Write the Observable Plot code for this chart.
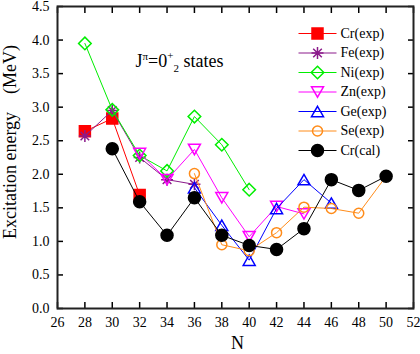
<!DOCTYPE html>
<html><head><meta charset="utf-8">
<script src="https://cdn.jsdelivr.net/npm/d3@7"></script>
<script src="https://cdn.jsdelivr.net/npm/@observablehq/plot@0.6"></script>
<style>
body{margin:0;background:#fff}
svg{display:block}
svg text{font-family:"Liberation Serif","Times New Roman","DejaVu Serif",serif}
</style></head><body><div id="chart"></div>
<script>
// ---- data ----
const N_CrExp = [28, 30, 32];
const E_CrExp = [2.64, 2.83, 1.69];
const N_FeExp = [28, 30, 32, 34, 36];
const E_FeExp = [2.57, 2.95, 2.25, 1.92, 1.85];
const N_NiExp = [28, 30, 32, 34, 36, 38, 40];
const E_NiExp = [3.95, 2.96, 2.28, 2.05, 2.86, 2.44, 1.77];
const N_ZnExp = [32, 34, 36, 38, 40, 42, 44];
const E_ZnExp = [2.31, 1.92, 2.37, 1.65, 1.07, 1.52, 1.41];
const N_GeExp = [36, 38, 40, 42, 44, 46];
const E_GeExp = [1.80, 1.24, 0.72, 1.49, 1.92, 1.57];
const N_SeExp = [36, 38, 40, 42, 44, 46, 48, 50];
const E_SeExp = [2.01, 0.95, 0.86, 1.13, 1.51, 1.49, 1.42, 1.97];
const N_CrCal = [30, 32, 34, 36, 38, 40, 42, 44, 46, 48, 50];
const E_CrCal = [2.38, 1.59, 1.09, 1.65, 1.09, 0.94, 0.88, 1.19, 1.92, 1.76, 1.97];

const seriesNames = ["Cr(exp)", "Fe(exp)", "Ni(exp)", "Zn(exp)", "Ge(exp)", "Se(exp)", "Cr(cal)"];
const xTicks = [26, 28, 30, 32, 34, 36, 38, 40, 42, 44, 46, 48, 50, 52];
const yTicks = [0, 0.5, 1, 1.5, 2, 2.5, 3, 3.5, 4, 4.5];
const xLabel = "N";
const yLabel = "Excitation energy\u00a0\u00a0\u00a0\u00a0(MeV)";
const annotation = "J\u03c0=0+2 states";

// ---- symbols ----
const symSquare = {draw(c){c.moveTo(-5.5,-5.5);c.lineTo(5.5,-5.5);c.lineTo(5.5,5.5);c.lineTo(-5.5,5.5);c.closePath();}};
const symStar = {draw(c){const r=6,d=4.3;c.moveTo(0,-r);c.lineTo(0,r);c.moveTo(-r,0);c.lineTo(r,0);c.moveTo(-d,-d);c.lineTo(d,d);c.moveTo(-d,d);c.lineTo(d,-d);}};
const symDiamond = {draw(c){const r=6.3;c.moveTo(0,-r);c.lineTo(r,0);c.lineTo(0,r);c.lineTo(-r,0);c.closePath();}};
const symTriDown = {draw(c){c.moveTo(-6,-5.2);c.lineTo(6,-5.2);c.lineTo(0,5.2);c.closePath();}};
const symTriUp = {draw(c){c.moveTo(0,-5.2);c.lineTo(6,5.2);c.lineTo(-6,5.2);c.closePath();}};
const symCircle5 = {draw(c){c.moveTo(5,0);c.arc(0,0,5,0,2*Math.PI);c.closePath();}};
const symCircle6 = {draw(c){c.moveTo(6,0);c.arc(0,0,6,0,2*Math.PI);c.closePath();}};
const symHLine = {draw(c){c.moveTo(-19,0);c.lineTo(19,0);}};

const toRows = (N, E) => N.map((n, i) => ({N: n, E: E[i]}));
const series = [
  {name: seriesNames[0], rows: toRows(N_CrExp, E_CrExp), color: "#ff0000", symbol: symSquare, fill: "#ff0000"},
  {name: seriesNames[1], rows: toRows(N_FeExp, E_FeExp), color: "#8b1a8b", symbol: symStar, fill: "none"},
  {name: seriesNames[2], rows: toRows(N_NiExp, E_NiExp), color: "#00ee00", symbol: symDiamond, fill: "none"},
  {name: seriesNames[3], rows: toRows(N_ZnExp, E_ZnExp), color: "#ff00ff", symbol: symTriDown, fill: "none"},
  {name: seriesNames[4], rows: toRows(N_GeExp, E_GeExp), color: "#0000ff", symbol: symTriUp, fill: "none"},
  {name: seriesNames[5], rows: toRows(N_SeExp, E_SeExp), color: "#ff8c1a", symbol: symCircle5, fill: "none"},
  {name: seriesNames[6], rows: toRows(N_CrCal, E_CrCal), color: "#000000", symbol: symCircle6, fill: "#000000"}
];

const marks = [];
for (const s of series) {
  marks.push(Plot.line(s.rows, {x: "N", y: "E", stroke: s.color, strokeWidth: 1}));
  marks.push(Plot.dot(s.rows, {x: "N", y: "E", symbol: s.symbol, r: 5, stroke: s.color, fill: s.fill, strokeWidth: 1.5}));
}
// legend
series.forEach((s, i) => {
  const dy = 27 + 19.5 * i;
  marks.push(Plot.dot([s.name], {frameAnchor: "top-left", dx: 260, dy, symbol: symHLine, r: 5, stroke: s.color, fill: "none", strokeWidth: 1}));
  marks.push(Plot.dot([s.name], {frameAnchor: "top-left", dx: 260, dy, symbol: s.symbol, r: 5, stroke: s.color, fill: s.fill, strokeWidth: 1.5}));
  marks.push(Plot.text([s.name], {frameAnchor: "top-left", dx: 283, dy, text: d => d, textAnchor: "start", lineAnchor: "middle", fontSize: 14, fill: "black"}));
});

const chart = Plot.plot({
  width: 420, height: 354,
  marginLeft: 57, marginRight: 7, marginTop: 6, marginBottom: 46,
  style: {fontFamily: "'Liberation Serif', 'Times New Roman', serif", fontSize: "14px", color: "black", background: "white"},
  x: {domain: [26, 52]},
  y: {domain: [0, 4.5]},
  marks: [
    Plot.axisX({anchor: "bottom", ticks: xTicks, tickSize: 0, tickPadding: 9, label: null, fontSize: 14}),
    Plot.axisX({anchor: "bottom", ticks: xTicks, tickSize: -6, fill: "none", label: null, strokeWidth: 1.5}),
    Plot.axisX({anchor: "top", ticks: xTicks, tickSize: -6, fill: "none", label: null, strokeWidth: 1.5}),
    Plot.axisY({anchor: "left", ticks: yTicks, tickSize: 0, tickPadding: 8, tickFormat: d3.format(".1f"), label: null, fontSize: 14}),
    Plot.axisY({anchor: "left", ticks: yTicks, tickSize: -6, fill: "none", label: null, strokeWidth: 1.5}),
    Plot.axisY({anchor: "right", ticks: yTicks, tickSize: -6, fill: "none", label: null, strokeWidth: 1.5}),
    ...marks,
    Plot.text([annotation], {frameAnchor: "top-left", dx: 78, dy: 55, text: d => d, textAnchor: "start", lineAnchor: "middle", fontSize: 18, fill: "black"}),
    Plot.text([yLabel], {frameAnchor: "left", rotate: -90, dx: -47, dy: -15.5, text: d => d, textAnchor: "middle", lineAnchor: "middle", fontSize: 18, fill: "black"}),
    Plot.text([xLabel], {frameAnchor: "bottom", dx: 2, dy: 35, text: d => d, textAnchor: "middle", lineAnchor: "middle", fontSize: 18, fill: "black"}),
    Plot.frame({strokeWidth: 2, stroke: "#222"})
  ]
});
document.getElementById("chart").appendChild(chart);

// rich text for the annotation (superscripts / subscript)
const t = [...chart.querySelectorAll("text")].find(e => e.textContent === annotation);
if (t) {
  t.textContent = "";
  const parts = [
    ["J", 18, 0], ["\u03c0", 11, -7], ["=0", 18, 7], ["+", 11, -8], ["2", 11, 13], ["\u00a0states", 18, -5]
  ];
  for (const [txt, fs, dy] of parts) {
    const sp = document.createElementNS("http://www.w3.org/2000/svg", "tspan");
    sp.setAttribute("font-size", fs);
    if (dy) sp.setAttribute("dy", dy);
    sp.textContent = txt;
    t.appendChild(sp);
  }
}
</script></body></html>
